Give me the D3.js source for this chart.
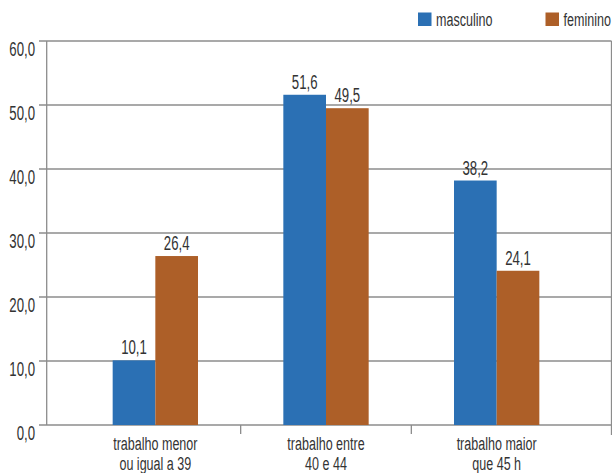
<!DOCTYPE html>
<html><head><meta charset="utf-8">
<script src="https://cdn.jsdelivr.net/npm/d3@7"></script>
<style>
html,body{margin:0;padding:0;background:#fff;}
svg text{font-family:"Liberation Sans",Arial,sans-serif;fill:#333;}
</style></head>
<body><svg id="c" width="612" height="473"></svg>
<script>
const categories = [["trabalho menor","ou igual a 39"],["trabalho entre","40 e 44"],["trabalho maior","que 45 h"]];
const categoryKeys = ["menor39","entre40_44","maior45"];
const seriesNames = ["masculino","feminino"];
const masculino = [10.1, 51.6, 38.2];
const feminino = [26.4, 49.5, 24.1];
const yTicks = [0,10,20,30,40,50,60];
const colors = ["#2b70b4","#ad5f28"];

const svg = d3.select("#c");
const SX = 0.66; // condensed text
const fmt = v => d3.format(".1f")(v).replace(".", ",");

const x = d3.scaleBand().domain(categoryKeys).range([70, 582]).paddingInner(0.5).paddingOuter(0.25);
const xs = d3.scaleBand().domain(seriesNames).range([0, x.bandwidth()]);
const y = d3.scaleLinear().domain([0, 60]).range([425, 41]);
const left = 46.7, right = 611.5, grid = "#8c8c8c";

// gridlines
svg.append("g").selectAll("line").data(yTicks).join("line")
  .attr("x1", 39).attr("x2", right).attr("y1", d => y(d)).attr("y2", d => y(d))
  .attr("stroke", grid).attr("stroke-width", 1.3);
// y axis line & right border
svg.append("line").attr("x1", left).attr("x2", left).attr("y1", y(60)).attr("y2", y(0)).attr("stroke", grid).attr("stroke-width", 1.3);
svg.append("line").attr("x1", right).attr("x2", right).attr("y1", y(60)).attr("y2", y(0) + 10).attr("stroke", grid).attr("stroke-width", 1.3);
// category separators
const step = x.step();
const seps = categoryKeys.slice(0, -1).map(k => x(k) + x.bandwidth() + (step - x.bandwidth()) / 2);
svg.append("g").selectAll("line").data(seps).join("line")
  .attr("x1", d => d).attr("x2", d => d).attr("y1", y(0)).attr("y2", y(0) + 9)
  .attr("stroke", grid).attr("stroke-width", 1.3);

// y labels
svg.append("g").selectAll("text").data(yTicks).join("text")
  .attr("transform", d => `translate(35,${y(d) + 14.5}) scale(${SX},1)`)
  .attr("text-anchor", "end").attr("font-size", 20).text(d => fmt(d));

// bars
const data = categoryKeys.map((k, i) => ({k, vals: [masculino[i], feminino[i]]}));
const g = svg.append("g").selectAll("g").data(data).join("g").attr("transform", d => `translate(${x(d.k)},0)`);
g.selectAll("rect").data(d => d.vals.map((v, j) => ({s: seriesNames[j], v, j}))).join("rect")
  .attr("x", d => xs(d.s)).attr("width", xs.bandwidth())
  .attr("y", d => y(d.v)).attr("height", d => y(0) - y(d.v))
  .attr("fill", d => colors[d.j]);
g.selectAll("text").data(d => d.vals.map((v, j) => ({s: seriesNames[j], v, j}))).join("text")
  .attr("transform", d => `translate(${xs(d.s) + xs.bandwidth() / 2},${y(d.v) - 6}) scale(${SX},1)`)
  .attr("text-anchor", "middle").attr("font-size", 20).text(d => fmt(d.v));

// category labels
const cl = svg.append("g").selectAll("g").data(categoryKeys).join("g");
cl.each(function(k, i) {
  const cx = x(k) + x.bandwidth() / 2;
  categories[i].forEach((line, li) => {
    d3.select(this).append("text")
      .attr("transform", `translate(${cx},${450 + li * 19.5}) scale(${SX},1)`)
      .attr("text-anchor", "middle").attr("font-size", 19).text(line);
  });
});

// legend
const lx = [418, 545.5];
const lg = svg.append("g").selectAll("g").data(seriesNames).join("g")
  .attr("transform", (d, i) => `translate(${lx[i]},12.5)`);
lg.append("rect").attr("width", 13.5).attr("height", 13.5).attr("fill", (d, i) => colors[i]);
lg.append("text").attr("transform", `translate(18,13.5) scale(${SX},1)`).attr("font-size", 19).text(d => d);
</script></body></html>
